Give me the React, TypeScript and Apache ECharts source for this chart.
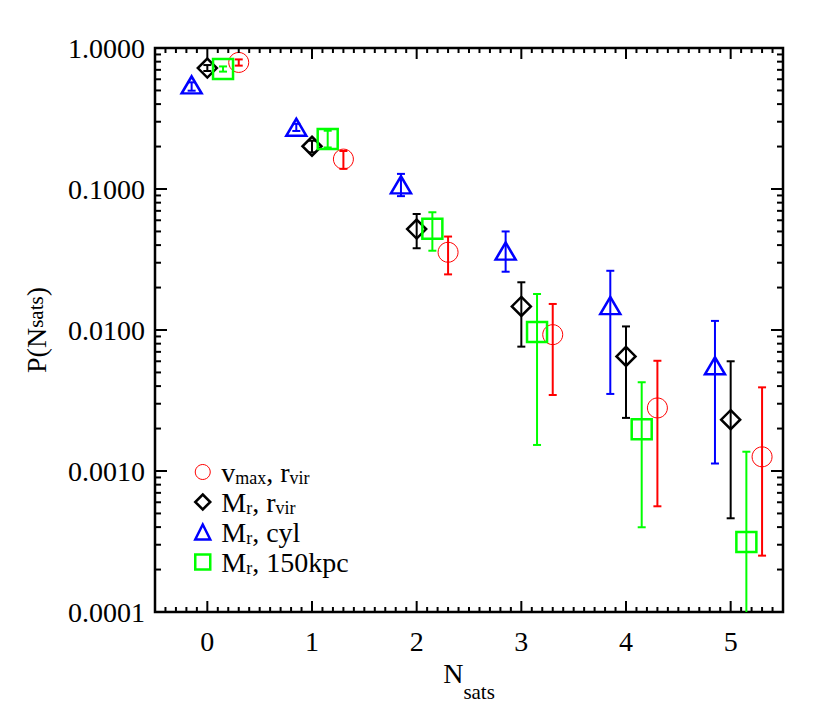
import React, { useEffect, useRef } from 'react';
import * as echarts from 'echarts';

// ---- data ----
const nSats = [0, 1, 2, 3, 4, 5];

// v_max, r_vir (red circles)
const vmaxRvirP = [0.79, 0.163, 0.0356, 0.00927, 0.0028, 0.00126];
const vmaxRvirHi = [0.83, 0.186, 0.046, 0.0153, 0.00605, 0.00392];
const vmaxRvirLo = [0.75, 0.139, 0.0248, 0.00346, 0.000562, 0.000251];

// M_r, r_vir (black diamonds)
const mrRvirP = [0.721, 0.201, 0.052, 0.0147, 0.0065, 0.00231];
const mrRvirHi = [0.757, 0.22, 0.0665, 0.0218, 0.0106, 0.006];
const mrRvirLo = [0.687, 0.182, 0.038, 0.00762, 0.00238, 0.000462];

// M_r, cyl (blue triangles)
const mrCylP = [0.547, 0.274, 0.107, 0.0363, 0.0149, 0.00558];
const mrCylHi = [0.571, 0.29, 0.128, 0.05, 0.0263, 0.0116];
const mrCylLo = [0.498, 0.258, 0.089, 0.0259, 0.00352, 0.00113];

// M_r, 150kpc (green squares)
const mr150P = [0.71, 0.226, 0.0523, 0.00968, 0.00198, 0.000314];
const mr150Hi = [0.74, 0.259, 0.0684, 0.018, 0.00426, 0.00137];
const mr150Lo = [0.68, 0.197, 0.0365, 0.00153, 0.000399, 0.00005];

const legendNames = ['v_max, r_vir', 'M_r, r_vir', 'M_r, cyl', 'M_r, 150kpc'];
const legendRich = [
  '{m|v}{s|max}{m|, r}{s|vir}',
  '{m|M}{s|r}{m|, r}{s|vir}',
  '{m|M}{s|r}{m|, cyl}',
  '{m|M}{s|r}{m|, 150kpc}',
];

// axis ticks
const yDecades = [0.0001, 0.001, 0.01, 0.1, 1];
const yMinorMultipliers = [2, 3, 4, 5, 6, 7, 8, 9];
const xMajorTicks = [0, 1, 2, 3, 4, 5];
const xMinorFractions = [0.1, 0.2, 0.3, 0.4, 0.5, 0.6, 0.7, 0.8, 0.9];

const FONT = "'Liberation Serif', 'Times New Roman', Times, serif";

export default function App() {
  const ref = useRef<HTMLDivElement>(null);

  useEffect(() => {
    document.body.style.margin = '0';
    if (!ref.current) return;
    const chart = echarts.init(ref.current, undefined, { renderer: 'svg' });

    const groups = [
      { name: legendNames[0], p: vmaxRvirP, hi: vmaxRvirHi, lo: vmaxRvirLo, dx: 0.3, symbol: 'circle', size: 20, color: '#ff0000', bw: 1, lbw: 1 },
      { name: legendNames[1], p: mrRvirP, hi: mrRvirHi, lo: mrRvirLo, dx: 0, symbol: 'diamond', size: 19, color: '#000000', bw: 2.5, lbw: 2.5 },
      { name: legendNames[2], p: mrCylP, hi: mrCylHi, lo: mrCylLo, dx: -0.15, symbol: 'triangle', size: [20, 17], color: '#0000ff', bw: 2.5, lbw: 2.5 },
      { name: legendNames[3], p: mr150P, hi: mr150Hi, lo: mr150Lo, dx: 0.15, symbol: 'rect', size: 20, color: '#00ff00', bw: 2.5, lbw: 2.5 },
    ];

    const series: any[] = [];
    groups.forEach((g) => {
      const pts = nSats.map((n, i) => [n + g.dx, g.p[i], g.lo[i], g.hi[i]]);
      series.push({
        type: 'scatter',
        name: g.name,
        symbol: g.symbol,
        symbolSize: g.size,
        data: pts.map((d) => [d[0], d[1]]),
        itemStyle: { color: 'rgba(0,0,0,0)', borderColor: g.color, borderWidth: g.bw, opacity: 1 },
        emphasis: { disabled: true },
        silent: true,
        z: 3,
      });
      series.push({
        type: 'custom',
        name: g.name + ' err',
        data: pts,
        encode: { x: 0, y: 1 },
        clip: true,
        silent: true,
        z: 3,
        renderItem: (params: any, api: any) => {
          const x = api.value(0);
          const a = api.coord([x, api.value(2)]);
          const b = api.coord([x, api.value(3)]);
          const st = { stroke: g.color, lineWidth: 2 };
          const hw = 4;
          return {
            type: 'group',
            children: [
              { type: 'line', shape: { x1: a[0], y1: a[1], x2: b[0], y2: b[1] }, style: st },
              { type: 'line', shape: { x1: a[0] - hw, y1: a[1], x2: a[0] + hw, y2: a[1] }, style: st },
              { type: 'line', shape: { x1: b[0] - hw, y1: b[1], x2: b[0] + hw, y2: b[1] }, style: st },
            ],
          };
        },
      });
    });

    // tick marks (inside, on all four sides)
    const yTickData: number[][] = [];
    yDecades.forEach((d, i) => {
      yTickData.push([0, d, 1]);
      if (i < yDecades.length - 1) yMinorMultipliers.forEach((m) => yTickData.push([0, +(d * m).toPrecision(6), 0]));
    });
    const xTickData: number[][] = [];
    xMajorTicks.forEach((t) => xTickData.push([t, 0.01, 1]));
    [-1, ...xMajorTicks].forEach((t) =>
      xMinorFractions.forEach((f) => {
        const v = +(t + f).toFixed(2);
        if (v > -0.5 && v < 5.5) xTickData.push([v, 0.01, 0]);
      })
    );

    series.push({
      type: 'custom',
      name: 'yticks',
      data: yTickData,
      encode: { x: 0, y: 1 },
      silent: true,
      clip: false,
      z: 5,
      renderItem: (params: any, api: any) => {
        const cs = params.coordSys;
        const y = api.coord([0, api.value(1)])[1];
        const len = api.value(2) ? 12 : 6;
        const st = { stroke: '#000', lineWidth: 2 };
        return {
          type: 'group',
          children: [
            { type: 'line', shape: { x1: cs.x, y1: y, x2: cs.x + len, y2: y }, style: st },
            { type: 'line', shape: { x1: cs.x + cs.width, y1: y, x2: cs.x + cs.width - len, y2: y }, style: st },
          ],
        };
      },
    });
    series.push({
      type: 'custom',
      name: 'xticks',
      data: xTickData,
      encode: { x: 0, y: 1 },
      silent: true,
      clip: false,
      z: 5,
      renderItem: (params: any, api: any) => {
        const cs = params.coordSys;
        const x = api.coord([api.value(0), 0.01])[0];
        const len = api.value(2) ? 11 : 5;
        const st = { stroke: '#000', lineWidth: 2 };
        return {
          type: 'group',
          children: [
            { type: 'line', shape: { x1: x, y1: cs.y + cs.height, x2: x, y2: cs.y + cs.height - len }, style: st },
            { type: 'line', shape: { x1: x, y1: cs.y, x2: x, y2: cs.y + len }, style: st },
          ],
        };
      },
    });

    const richName = (main: number, sub: number, pad: number, va: string) => ({
      m: { fontSize: main, lineHeight: main, fontFamily: FONT, color: '#000', verticalAlign: va },
      s: { fontSize: sub, lineHeight: main, fontFamily: FONT, color: '#000', verticalAlign: va, padding: [pad, 0, 0, 0] },
    });

    chart.setOption({
      animation: false,
      backgroundColor: '#ffffff',
      grid: {
        left: 155,
        top: 48,
        right: 47,
        bottom: 100,
        show: true,
        borderColor: '#000',
        borderWidth: 2.5,
        backgroundColor: 'rgba(0,0,0,0)',
      },
      xAxis: {
        type: 'value',
        min: -0.5,
        max: 5.5,
        interval: 0.5,
        axisLine: { show: false },
        axisTick: { show: false },
        splitLine: { show: false },
        axisLabel: {
          fontFamily: FONT,
          fontSize: 28,
          color: '#000',
          margin: 15,
          formatter: (v: number) => (Number.isInteger(v) ? String(v) : ''),
        },
        name: '{m|N}{s|sats}',
        nameLocation: 'middle',
        nameGap: 45,
        nameTextStyle: { rich: richName(28, 21, 22, 'top') },
      },
      yAxis: {
        type: 'log',
        logBase: 10,
        min: 0.0001,
        max: 1,
        axisLine: { show: false },
        axisTick: { show: false },
        splitLine: { show: false },
        axisLabel: {
          fontFamily: FONT,
          fontSize: 28,
          color: '#000',
          margin: 10,
          formatter: (v: number) => v.toFixed(4),
        },
        name: '{m|P(N}{s|sats}{m|)}',
        nameLocation: 'middle',
        nameRotate: 90,
        nameGap: 105,
        nameTextStyle: { rich: richName(28, 21, 0, 'middle') },
      },
      legend: {
        orient: 'vertical',
        left: 194,
        top: 458,
        padding: 0,
        itemWidth: 15,
        itemHeight: 15,
        itemGap: 1,
        selectedMode: false,
        data: groups.map((g) => ({
          name: g.name,
          icon: g.symbol,
          itemStyle: { color: 'rgba(0,0,0,0)', borderColor: g.color, borderWidth: g.lbw },
        })),
        formatter: (name: string) => legendRich[legendNames.indexOf(name)],
        textStyle: {
          padding: [0, 0, 0, 6],
          rich: {
            m: { fontSize: 28, lineHeight: 28, fontFamily: FONT, color: '#000', verticalAlign: 'top' },
            s: { fontSize: 18, lineHeight: 28, fontFamily: FONT, color: '#000', verticalAlign: 'top', padding: [11, 0, 0, 0] },
          },
        },
      },
      series,
    });

    return () => chart.dispose();
  }, []);

  return <div ref={ref} style={{ width: 830, height: 712 }} />;
}
